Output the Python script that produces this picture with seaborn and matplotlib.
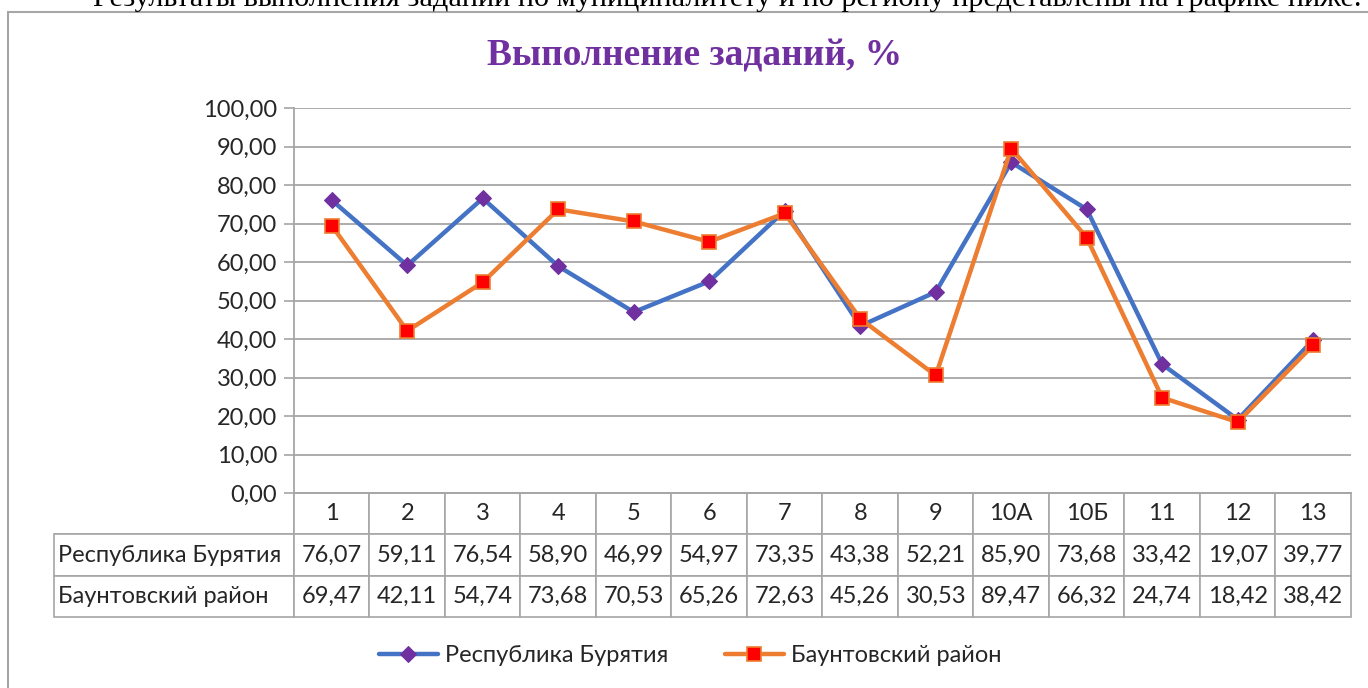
import matplotlib
matplotlib.use("Agg")
import matplotlib.pyplot as plt
import seaborn as sns
import pandas as pd
from matplotlib.patches import Rectangle

categories = ["1", "2", "3", "4", "5", "6", "7", "8", "9", "10А", "10Б", "11", "12", "13"]
series_names = ["Республика Бурятия", "Баунтовский район"]
buryatia = [76.07, 59.11, 76.54, 58.90, 46.99, 54.97, 73.35, 43.38, 52.21, 85.90, 73.68, 33.42, 19.07, 39.77]
baunt = [69.47, 42.11, 54.74, 73.68, 70.53, 65.26, 72.63, 45.26, 30.53, 89.47, 66.32, 24.74, 18.42, 38.42]
yticks = [0, 10, 20, 30, 40, 50, 60, 70, 80, 90, 100]
title = "Выполнение заданий, %"
top_text = "Результаты выполнения заданий по муниципалитету и по региону представлены на графике ниже."

sns.set_theme(style="white")
plt.rcParams["font.family"] = ["Lato", "DejaVu Sans"]

W, H = 1368, 688
fig = plt.figure(figsize=(W / 100, H / 100), dpi=100)

# axes placement (pixels)
L, R, T, B = 294, 1351, 108, 493
ax = fig.add_axes([L / W, 1 - B / H, (R - L) / W, (B - T) / H])

pos = list(range(len(categories)))
df = pd.DataFrame({"x": pos + pos,
                   "y": buryatia + baunt,
                   "s": [series_names[0]] * len(pos) + [series_names[1]] * len(pos)})

blue, purple = "#4472C4", "#7030A0"
orange, red = "#ED7D31", "#FF0000"

sns.lineplot(data=df[df.s == series_names[0]], x="x", y="y", ax=ax, color=blue, lw=3.2,
             marker="D", markersize=8.5, markerfacecolor=purple, markeredgecolor=purple,
             label=series_names[0], sort=False)
sns.lineplot(data=df[df.s == series_names[1]], x="x", y="y", ax=ax, color=orange, lw=3.2,
             marker="s", markersize=10, markerfacecolor=red, markeredgecolor=orange,
             markeredgewidth=1.2, label=series_names[1], sort=False)

FS = 17
ax.set_xlim(-0.5, len(categories) - 0.5)
ax.set_ylim(0, 100)
ax.set_yticks(yticks)
ax.set_yticklabels([f"{v:.2f}".replace(".", ",") for v in yticks], fontsize=FS)
ax.set_xticks(pos)
ax.set_xticklabels([])
ax.tick_params(axis="x", length=0)
ax.tick_params(axis="y", length=7, width=1.2, color="#A6A6A6", left=True, pad=5)
ax.set_xlabel("")
ax.set_ylabel("")
ax.grid(axis="y", color="#A6A6A6", lw=1.3)
ax.grid(axis="x", visible=False)
for s in ["top", "right"]:
    ax.spines[s].set_visible(False)
for s in ["left", "bottom"]:
    ax.spines[s].set_color("#A6A6A6")
    ax.spines[s].set_linewidth(1.3)
ax.set_axisbelow(True)

# data table
TL, TB = 54, 617
label_w = L - TL
col_w = (R - L) / len(categories)
cell_text = [[""] + categories,
             [series_names[0]] + [f"{v:.2f}".replace(".", ",") for v in buryatia],
             [series_names[1]] + [f"{v:.2f}".replace(".", ",") for v in baunt]]
tot_w = R - TL
colWidths = [label_w / tot_w] + [col_w / tot_w] * len(categories)
bbox = [(TL - L) / (R - L), -(TB - B) / (B - T), tot_w / (R - L), (TB - B) / (B - T)]
tbl = ax.table(cellText=cell_text, colWidths=colWidths, bbox=bbox, cellLoc="center")
tbl.auto_set_font_size(False)
for (r, c), cell in tbl.get_celld().items():
    cell.set_edgecolor("#A6A6A6")
    cell.set_linewidth(1.2)
    cell.get_text().set_fontsize(FS)
    cell.get_text().set_fontfamily(["Lato", "DejaVu Sans"])
    if c == 0:
        cell.get_text().set_ha("left")
        cell.PAD = 0.015
    if r == 0 and c == 0:
        cell.visible_edges = "BR"

# legend
h, l = ax.get_legend_handles_labels()
if ax.legend_:
    ax.legend_.remove()
fig.legend(h, l, loc="center", bbox_to_anchor=(690 / W, 1 - 656 / H), ncol=2, frameon=False,
           fontsize=FS, handlelength=2.5, columnspacing=2.4, handletextpad=0.3)

# title
fig.text(695 / W, 1 - 56 / H, title, ha="center", va="center", fontsize=27, fontweight="bold",
         color=purple, family=["Liberation Serif", "DejaVu Serif"])

# clipped text on top (cut off in the reference as well)
fig.text(727 / W, 1 - 6 / H, top_text, ha="center", va="baseline", fontsize=21.8,
         family=["Liberation Serif", "DejaVu Serif"], color="black")

# frame
fig.patches.append(Rectangle((8 / W, -0.05), 1.2, 1 - 12 / H + 0.05, transform=fig.transFigure,
                             fill=False, edgecolor="#A6A6A6", lw=1.5, figure=fig))

fig.savefig("out.png", dpi=100)
